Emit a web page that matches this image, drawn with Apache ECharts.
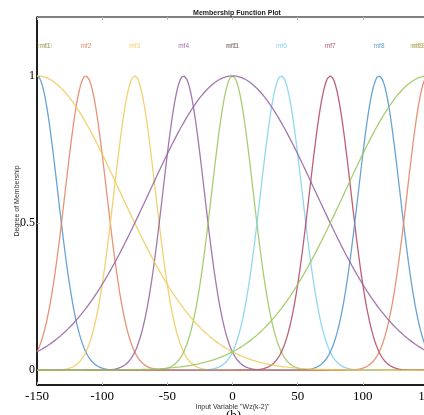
<!DOCTYPE html>
<html>
<head>
<meta charset="utf-8">
<script src="https://cdn.jsdelivr.net/npm/echarts@6/dist/echarts.min.js"></script>
<style>
html,body{margin:0;padding:0;background:#fff;}
#chart{width:424px;height:415px;}
</style>
</head>
<body>
<div id="chart"></div>
<script>
// membership functions (gaussmf)
var mfNames = ['mf1','mf2','mf3','mf4','mf5','mf6','mf7','mf8','mf9','mf10','mf11','mf12'];
var mfCenters = [-150, -112.5, -75, -37.5, 0, 37.5, 75, 112.5, 150, -150, 0, 150];
var mfSigmas = [15.9, 15.9, 15.9, 15.9, 15.9, 15.9, 15.9, 15.9, 15.9, 63.7, 63.7, 63.7];
var xTicks = [-150, -100, -50, 0, 50, 100, 150];
var yTicks = [0, 0.5, 1];

var colors = ['#4f93cc','#e2805f','#f0c95a','#92609f','#98c45c','#7fd0f0','#b2435f',
              '#4f93cc','#e2805f','#f0c95a','#92609f','#98c45c'];

function gaussmf(x, s, c) {
    return Math.exp(-(x - c) * (x - c) / (2 * s * s));
}

var chart = echarts.init(document.getElementById('chart'));
var series = [];
for (var i = 0; i < mfNames.length; i++) {
    var pts = [];
    for (var x = -150; x <= 150; x += 1) {
        pts.push([x, gaussmf(x, mfSigmas[i], mfCenters[i])]);
    }
    series.push({
        type: 'line',
        name: mfNames[i],
        data: pts,
        showSymbol: false,
        silent: true,
        lineStyle: {color: colors[i], width: 1.3, opacity: 0.85},
        z: 2
    });
}

// mf labels at y=1.1, kept inside the axes at the edges
var labelData = [];
for (var i = 0; i < mfNames.length; i++) {
    var lx = Math.max(-144, Math.min(142, mfCenters[i]));
    labelData.push({
        value: [lx, 1.1],
        label: {show: true, formatter: mfNames[i], color: colors[i]}
    });
}
series.push({
    type: 'scatter',
    data: labelData,
    symbolSize: 0,
    silent: true,
    label: {position: 'inside', fontSize: 6.5, fontFamily: 'Liberation Sans', opacity: 0.9},
    z: 3
});

var serif = 'Liberation Serif';
var option = {
    backgroundColor: '#fff',
    animation: false,
    title: {
        text: 'Membership Function Plot',
        left: 232,
        textAlign: 'center',
        top: 5,
        textStyle: {fontSize: 7, fontWeight: 'bold', color: '#222', fontFamily: 'Liberation Sans'}
    },
    grid: {
        left: 37, top: 17, bottom: 30, right: -4,
        outerBoundsMode: 'none', containLabel: false,
        show: true, borderColor: '#000', borderWidth: 1
    },
    xAxis: [{
        type: 'value', min: -150, max: 150, interval: 50,
        axisLine: {onZero: false, lineStyle: {color: '#000', width: 1.5}},
        axisTick: {inside: true, length: 3, lineStyle: {color: '#bbb'}},
        splitLine: {show: false},
        axisLabel: {fontFamily: serif, fontSize: 13, color: '#000', margin: 5,
            customValues: xTicks},
        name: 'Input Variable "Wz(k-2)"',
        nameLocation: 'middle',
        nameMoveOverlap: false,
        nameGap: 19,
        nameTextStyle: {fontSize: 7, color: '#333', fontFamily: 'Liberation Sans'}
    }, {
        type: 'value', min: -150, max: 150, interval: 50, position: 'top',
        axisLine: {show: false, onZero: false},
        axisTick: {inside: true, length: 3, lineStyle: {color: '#bbb'}},
        axisLabel: {show: false},
        splitLine: {show: false}
    }],
    yAxis: [{
        type: 'value', min: -0.05, max: 1.2,
        axisLine: {show: true, onZero: false, lineStyle: {color: '#000', width: 1.5}},
        axisTick: {show: true, inside: true, length: 3, customValues: yTicks, lineStyle: {color: '#bbb'}},
        splitLine: {show: false},
        axisLabel: {fontFamily: serif, fontSize: 12, color: '#000', margin: 2,
            customValues: yTicks},
        name: 'Degree of Membership',
        nameLocation: 'middle',
        nameMoveOverlap: false,
        nameGap: 16,
        nameTextStyle: {fontSize: 7, color: '#333', fontFamily: 'Liberation Sans'}
    }],
    graphic: [{
        type: 'text', left: 226, top: 409,
        style: {text: '(b)', font: '13px "Liberation Serif"', fill: '#000'}
    }],
    series: series
};
chart.setOption(option);
</script>
</body>
</html>
